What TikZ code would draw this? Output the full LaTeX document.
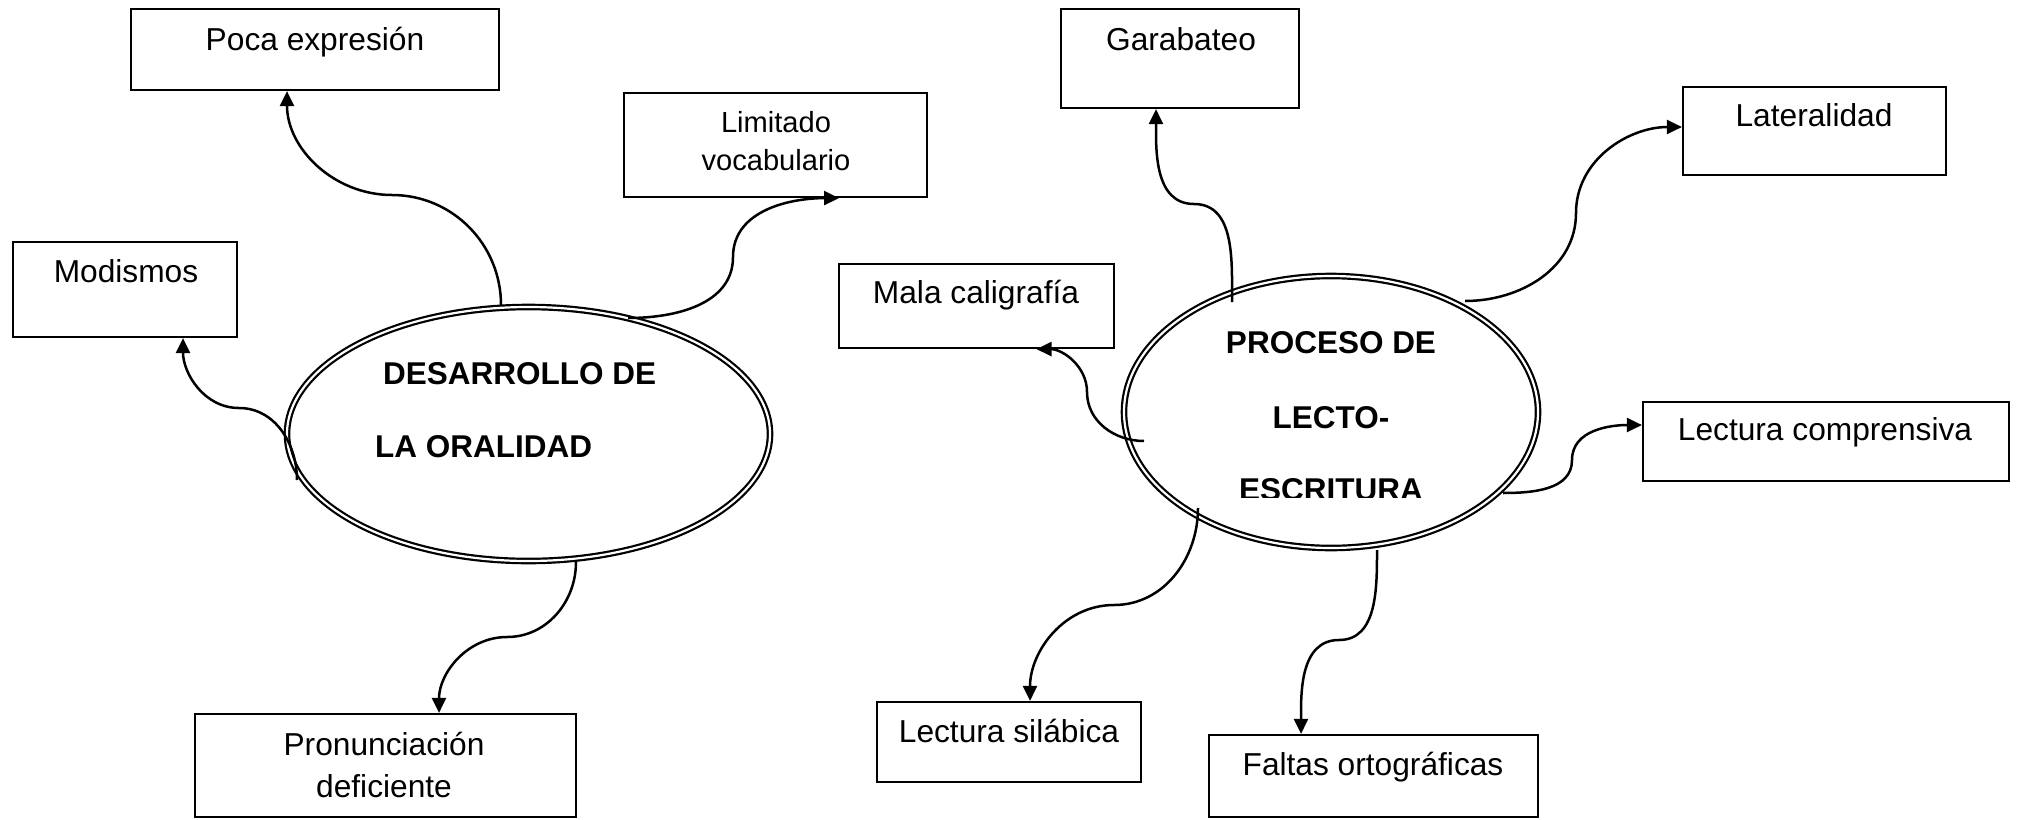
\documentclass[tikz,border=0pt]{standalone}
\usepackage{fontspec}
\setmainfont{Liberation Sans}
\usetikzlibrary{arrows.meta,shapes.geometric,calc}
\begin{document}
\begin{tikzpicture}[x=1pt,y=1pt,
 box/.style={draw, line width=2.2pt, rectangle, inner sep=0pt},
 txt/.style={inner sep=0pt, anchor=base, font=\fontsize{31.7}{36}\selectfont},
 stxt/.style={inner sep=0pt, anchor=base, font=\fontsize{29.1}{34}\selectfont},
 btxt/.style={inner sep=0pt, font=\fontsize{31.5}{36}\selectfont\bfseries},
 oval/.style={draw, ellipse, double, double distance=2.2pt, line width=2.2pt, inner sep=0pt},
 conn/.style={line width=2.5pt, -{Triangle[length=15pt,width=14pt]}},
]
\useasboundingbox (0,0) rectangle (2017,-819);

% boxes
\node[box, minimum width=368, minimum height=81] (poca) at (315,-49.5) {};
\node[box, minimum width=303, minimum height=104] (lim) at (775.5,-145) {};
\node[box, minimum width=224, minimum height=95] (mod) at (125,-289.5) {};
\node[box, minimum width=381, minimum height=103] (pron) at (385.5,-765.5) {};
\node[box, minimum width=238, minimum height=99] (gar) at (1180,-58.5) {};
\node[box, minimum width=263, minimum height=88] (lat) at (1814.5,-131) {};
\node[box, minimum width=275, minimum height=84] (mala) at (976.5,-306) {};
\node[box, minimum width=366, minimum height=79] (lcomp) at (1826,-441.5) {};
\node[box, minimum width=264, minimum height=80] (lsil) at (1009,-742) {};
\node[box, minimum width=329, minimum height=82] (falt) at (1373.5,-776) {};

% box texts
\node[txt] (pocat) at (315,-50) {Poca expresión};
\node[stxt] (limt1) at (776,-132) {Limitado};
\node[stxt] (limt2) at (776,-170) {vocabulario};
\node[txt] (modt) at (126,-282) {Modismos};
\node[txt] (pront1) at (384,-755) {Pronunciación};
\node[txt] (pront2) at (384,-797) {deficiente};
\node[txt] (gart) at (1181,-50) {Garabateo};
\node[txt] (latt) at (1814,-126) {Lateralidad};
\node[txt] (malat) at (976,-303) {Mala caligrafía};
\node[txt] (lcompt) at (1825,-440) {Lectura comprensiva};
\node[txt] (lsilt) at (1009,-742) {Lectura silábica};
\node[txt] (faltt) at (1373,-775) {Faltas ortográficas};

% ellipses
\node[oval, minimum width=483, minimum height=254] (oral) at (528.5,-434) {};
\node[oval, minimum width=414, minimum height=272] (proc) at (1331,-412) {};

\node[btxt, anchor=base west] (d1) at (383,-384) {DESARROLLO DE};
\node[btxt, anchor=base west] (d2) at (375,-457) {LA ORALIDAD};
\node[btxt, anchor=base] (p1) at (1331,-353) {PROCESO DE};
\node[btxt, anchor=base] (p2) at (1331,-428) {LECTO-};
\begin{scope}
\clip (1200,-460) rectangle (1460,-497.5);
\node[btxt, anchor=base] (p3) at (1331,-500) {ESCRITURA};
\end{scope}

% connector points
\coordinate (s1) at (501,-305);  \coordinate (m1) at (392,-195);
\coordinate (s2) at (628,-318);  \coordinate (m2) at (733,-257);
\coordinate (s3) at (297,-480);  \coordinate (m3) at (239,-408);
\coordinate (s4) at (576,-562);  \coordinate (m4) at (507,-637);
\coordinate (s5) at (1232,-302); \coordinate (m5) at (1194,-204);
\coordinate (s6) at (1465,-301); \coordinate (m6) at (1576,-213);
\coordinate (s7) at (1144,-441); \coordinate (m7) at (1087,-392);
\coordinate (s8) at (1503,-493); \coordinate (m8) at (1572,-460);
\coordinate (s9) at (1198,-508); \coordinate (m9) at (1114,-605);
\coordinate (s10) at (1377,-550); \coordinate (m10) at (1339,-640);

% connectors
\draw[conn] (s1) to[out=90,in=0] (m1) to[out=180,in=-90] ([xshift=-28pt]poca.south);
\draw[conn] (s2) to[out=0,in=-90] (m2) to[out=90,in=180] ([xshift=63.5pt]lim.south);
\draw[conn] (s3) to[out=90,in=0] (m3) to[out=180,in=-90] ([xshift=58pt]mod.south);
\draw[conn] (s4) to[out=-90,in=0] (m4) to[out=180,in=90] ([xshift=53.5pt]pron.north);
\draw[conn] (s5) to[out=90,in=0] (m5) to[out=180,in=-90] ([xshift=-24pt]gar.south);
\draw[conn] (s6) to[out=0,in=-90] (m6) to[out=90,in=180] ([yshift=4pt]lat.west);
\draw[conn] (s7) to[out=180,in=-90] (m7) to[out=90,in=0] ([xshift=60pt]mala.south);
\draw[conn] (s8) to[out=0,in=-90] (m8) to[out=90,in=180] ([yshift=16.5pt]lcomp.west);
\draw[conn] (s9) to[out=-90,in=0] (m9) to[out=180,in=90] ([xshift=21pt]lsil.north);
\draw[conn] (s10) to[out=-90,in=0] (m10) to[out=180,in=90] ([xshift=-72.5pt]falt.north);
\end{tikzpicture}
\end{document}
